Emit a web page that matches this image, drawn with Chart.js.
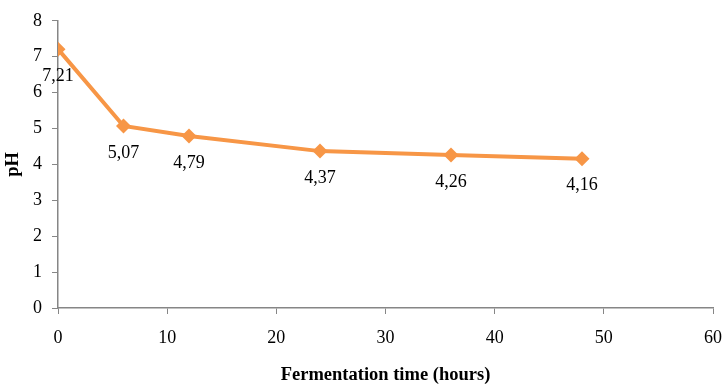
<!DOCTYPE html>
<html>
<head>
<meta charset="utf-8">
<script src="https://cdn.jsdelivr.net/npm/chart.js@4"></script>
<style>
  html, body { margin: 0; padding: 0; background: #fff; }
  #wrap { width: 728px; height: 386px; }
</style>
</head>
<body>
<div id="wrap"><canvas id="phChart"></canvas></div>
<script>
const hours = [0, 6, 12, 24, 36, 48];
const phValues = [7.21, 5.07, 4.79, 4.37, 4.26, 4.16];
const phLabels = ['7,21', '5,07', '4,79', '4,37', '4,26', '4,16'];

const orange = '#F79646';
const axisGray = '#868686';
const serif = "'Liberation Serif', 'Times New Roman', serif";

// value labels under each point
const belowLabels = {
    id: 'belowLabels',
    afterDatasetsDraw(chart) {
        const ctx = chart.ctx;
        const meta = chart.getDatasetMeta(0);
        ctx.save();
        ctx.font = '18px ' + serif;
        ctx.fillStyle = '#000';
        ctx.textAlign = 'center';
        ctx.textBaseline = 'middle';
        meta.data.forEach((pt, i) => {
            ctx.fillText(phLabels[i], pt.x, pt.y + 27);
        });
        ctx.restore();
    }
};

new Chart(document.getElementById('phChart').getContext('2d'), {
    type: 'line',
    data: {
        datasets: [{
            data: hours.map((h, i) => ({ x: h, y: phValues[i] })),
            borderColor: orange,
            backgroundColor: orange,
            borderWidth: 4,
            pointStyle: 'rectRot',
            pointRadius: 7.5,
            pointBorderWidth: 0,
            tension: 0
        }]
    },
    options: {
        responsive: true,
        maintainAspectRatio: false,
        animation: false,
        layout: { padding: { top: 20, right: 15, left: 0, bottom: 0 } },
        plugins: { legend: { display: false }, tooltip: { enabled: false } },
        scales: {
            x: {
                type: 'linear',
                min: 0, max: 60,
                ticks: { stepSize: 10, color: '#000', font: { family: serif, size: 18 }, padding: 13 },
                grid: { drawOnChartArea: false, drawTicks: true, tickLength: 6, color: axisGray },
                border: { color: axisGray, width: 1.5 },
                title: { display: true, text: 'Fermentation time (hours)', color: '#000',
                         font: { family: serif, size: 18.5, weight: 'bold' }, padding: { top: 0, bottom: 0 } },
                afterFit(scale) {
                    scale.height = 78;
                    scale.paddingRight = 0;
                    scale.paddingLeft = 0;
                }
            },
            y: {
                min: 0, max: 8,
                ticks: { stepSize: 1, color: '#000', font: { family: serif, size: 18 }, padding: 10 },
                grid: { drawOnChartArea: false, drawTicks: true, tickLength: 6, color: axisGray },
                border: { color: axisGray, width: 1.5 },
                title: { display: true, text: 'pH', color: '#000',
                         font: { family: serif, size: 18.5, weight: 'bold' }, padding: { top: 2, bottom: 0 } },
                afterFit(scale) { scale.width = 58; }
            }
        }
    },
    plugins: [belowLabels]
});
</script>
</body>
</html>
